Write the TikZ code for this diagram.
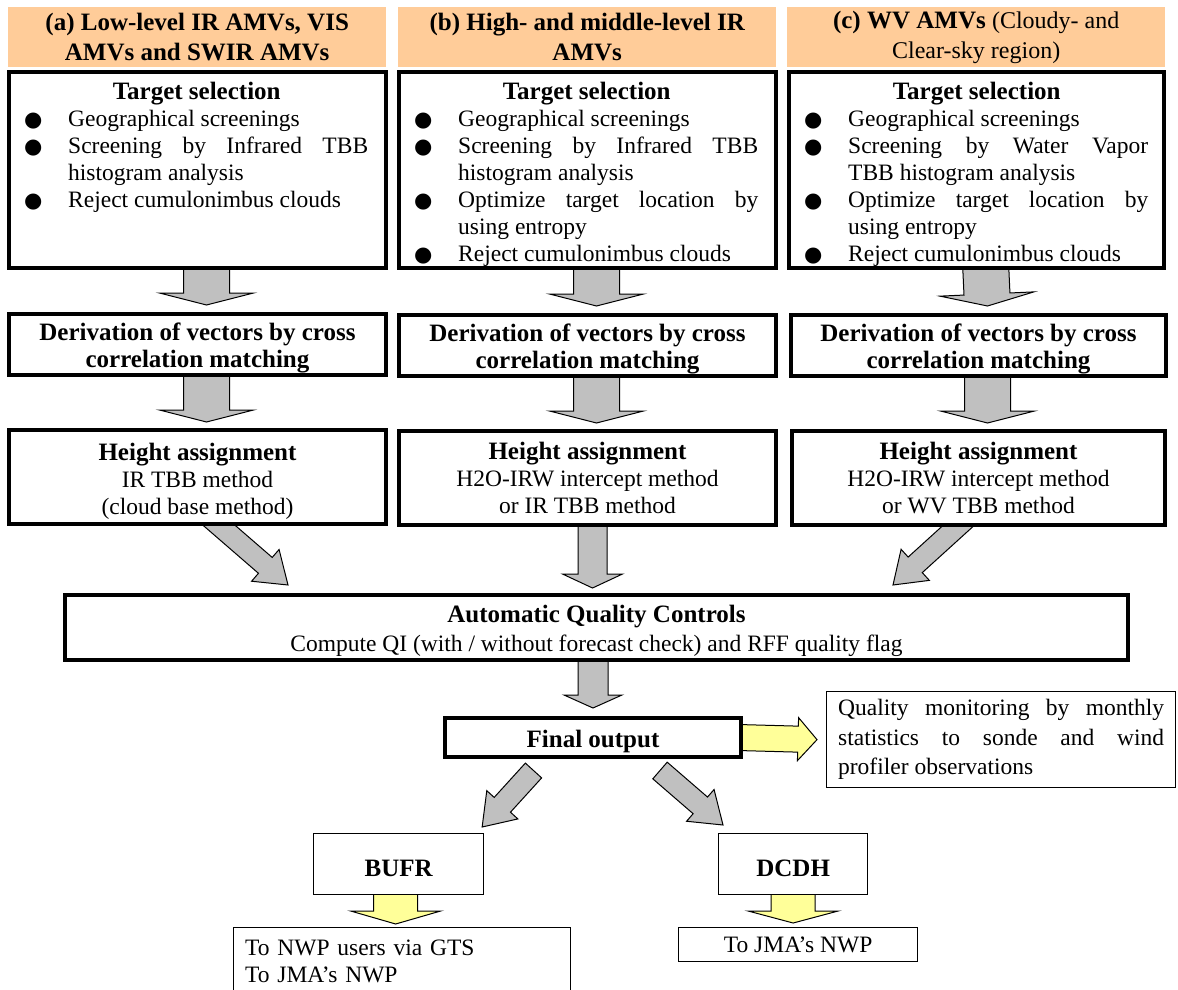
\documentclass[tikz,border=0pt]{standalone}
\usepackage{fontspec}
\setmainfont{Liberation Serif}
\newfontfamily\bulletfont{DejaVu Sans}
\usetikzlibrary{calc, positioning, backgrounds}

\definecolor{headorange}{HTML}{FFCC99}
\definecolor{arrowgray}{HTML}{C0C0C0}
\definecolor{arrowyellow}{HTML}{FFFF99}

\newcommand\bodyfont{\fontsize{23.5}{27}\selectfont}
\newcommand\hd[1]{{\fontsize{25}{27}\selectfont\bfseries #1}}
\newcommand\lift{\rule{0pt}{25pt}}

\tikzset{
  header/.style={fill=headorange, anchor=north west, minimum width=378pt, minimum height=60pt,
    inner sep=0pt, align=center, font=\fontsize{25}{30}\selectfont\bfseries},
  thickbox/.style={draw, line width=4pt, fill=white, anchor=north west, inner sep=0pt,
    align=center, font=\bodyfont},
  thinbox/.style={draw, line width=1.3pt, fill=white, anchor=north west, inner sep=0pt,
    align=center, font=\bodyfont},
  dvbox/.style={thickbox, minimum width=377pt, minimum height=61pt,
    font=\fontsize{25}{27}\selectfont\bfseries},
  htbox/.style={thickbox, minimum width=377pt, minimum height=94pt},
  listtext/.style={anchor=north west, inner sep=0pt, text width=343pt, align=justify,
    font=\bodyfont},
  grayarrow/.style={draw, line width=1pt, fill=arrowgray},
  yellowarrow/.style={draw, line width=1pt, fill=arrowyellow}
}

% bullet item with hanging indent
\newcommand\tsitem[1]{\par\hangindent=43pt\hangafter=1\noindent
  \makebox[43pt][l]{\hspace*{-1pt}{\bulletfont\fontsize{21}{27}\selectfont ●}}#1}

% block arrow: [style]{from}{to}{shaft half}{head half}{head length}
\newcommand\blockarrow[6][grayarrow]{%
  \coordinate (ba-s) at (#2);
  \coordinate (ba-e) at (#3);
  \coordinate (ba-h) at ($(ba-e)!#6!(ba-s)$);
  \filldraw[#1] ($(ba-s)!#4!90:(ba-e)$) -- ($(ba-h)!#4!-90:(ba-s)$)
    -- ($(ba-h)!#5!-90:(ba-s)$) -- (ba-e) -- ($(ba-h)!#5!90:(ba-s)$)
    -- ($(ba-h)!#4!90:(ba-s)$) -- ($(ba-s)!#4!-90:(ba-e)$) -- cycle;
}

\begin{document}
\begin{tikzpicture}[x=1pt, y=1pt]
\useasboundingbox (0,0) rectangle (1178,-990);

% column headers
\node[header] (hd-a) at (8,-7) {(a) Low-level IR AMVs, VIS\\AMVs and SWIR AMVs};
\node[header] (hd-b) at (398,-7) {(b) High- and middle-level IR\\AMVs};
\node[header] (hd-c) at (787,-7) {(c) WV AMVs {\mdseries\fontsize{24}{30}\selectfont(Cloudy- and}\\{\mdseries\fontsize{24}{30}\selectfont Clear-sky region)}};

% target selection
\node[thickbox, minimum width=377pt, minimum height=196pt] (ts-a) at (7,-70) {};
\node[thickbox, minimum width=377pt, minimum height=196pt] (ts-b) at (397,-70) {};
\node[thickbox, minimum width=375pt, minimum height=196pt] (ts-c) at (787,-70) {};

\node[listtext] (ts-a-txt) at ($(ts-a.north west)+(18,-12)$) {{\centering\hd{Target selection}\par}
  \tsitem{Geographical screenings}
  \tsitem{Screening by Infrared TBB\linebreak histogram analysis}
  \tsitem{Reject cumulonimbus clouds}};
\node[listtext] (ts-b-txt) at ($(ts-b.north west)+(18,-12)$) {{\centering\hd{Target selection}\par}
  \tsitem{Geographical screenings}
  \tsitem{Screening by Infrared TBB\linebreak histogram analysis}
  \tsitem{Optimize target location by\linebreak using entropy}
  \tsitem{Reject cumulonimbus clouds}};
\node[listtext] (ts-c-txt) at ($(ts-c.north west)+(18,-12)$) {{\centering\hd{Target selection}\par}
  \tsitem{Geographical screenings}
  \tsitem{Screening by Water Vapor\linebreak TBB histogram analysis}
  \tsitem{Optimize target location by\linebreak using entropy}
  \tsitem{Reject cumulonimbus clouds}};

% vector derivation
\node[dvbox] (dv-a) at (7,-312) {\lift Derivation of vectors by cross\\correlation matching};
\node[dvbox] (dv-b) at (397,-313) {\lift Derivation of vectors by cross\\correlation matching};
\node[dvbox, minimum width=375pt] (dv-c) at (789,-313) {\lift Derivation of vectors by cross\\correlation matching};

% height assignment
\node[htbox] (ht-a) at (7,-428) {\lift\hd{Height assignment}\\IR TBB method\\(cloud base method)};
\node[htbox] (ht-b) at (397,-429) {\hd{Height assignment}\\H2O-IRW intercept method\\or IR TBB method};
\node[htbox, minimum width=373pt] (ht-c) at (790,-429) {\hd{Height assignment}\\H2O-IRW intercept method\\or WV TBB method};

% quality control and output
\node[thickbox, minimum width=1063pt, minimum height=65pt, font=\fontsize{23.5}{29}\selectfont] (aqc) at (63,-593)
  {\lift\hd{Automatic Quality Controls}\\Compute QI (with / without forecast check) and RFF quality flag};
\node[thickbox, minimum width=296pt, minimum height=39pt] (fo) at (443,-716) {\lift\hd{Final output}};
\node[thinbox, minimum width=349pt, minimum height=96pt, text width=326pt, align=justify,
  font=\fontsize{23.5}{29.5}\selectfont] (qm) at (826,-691)
  {Quality monitoring by monthly\linebreak statistics to sonde and wind\linebreak profiler observations};

\node[thinbox, minimum width=170pt, minimum height=61pt] (bufr) at (313,-833) {\lift\hd{BUFR}};
\node[thinbox, minimum width=149pt, minimum height=61pt] (dcdh) at (718,-833) {\lift\hd{DCDH}};
\node[thinbox, minimum width=337pt, minimum height=68pt, text width=314pt, align=left] (nwp) at (233,-927) {To NWP users via GTS\\To JMA’s NWP};
\node[thinbox, minimum width=239pt, minimum height=34pt] (jma) at (678,-927) {To JMA’s NWP};

% block arrows
\begin{scope}[on background layer]
  \foreach \col in {a,b,c} {
    \blockarrow{[xshift=9pt,yshift=8pt]ts-\col.south}{[xshift=9pt,yshift=7pt]dv-\col.north}{23pt}{47pt}{12pt}
    \blockarrow{[xshift=9pt,yshift=8pt]dv-\col.south}{[xshift=9pt,yshift=6pt]ht-\col.north}{23pt}{47pt}{12pt}
  }
  \blockarrow{[xshift=12pt,yshift=9pt]ht-a.south}{[xshift=225pt,yshift=8pt]aqc.north west}{10.5pt}{21pt}{30pt}
  \blockarrow{[xshift=5pt,yshift=10pt]ht-b.south}{[xshift=-4pt,yshift=5pt]aqc.north}{14.5pt}{30pt}{14pt}
  \blockarrow{[xshift=-9.5pt,yshift=11pt]ht-c.south}{[xshift=-237pt,yshift=8pt]aqc.north east}{10.5pt}{21pt}{30pt}
  \blockarrow{[xshift=-3.5pt,yshift=10pt]aqc.south}{[yshift=8pt]fo.north}{15pt}{29pt}{13pt}
  \blockarrow{[xshift=-59.5pt,yshift=-11.5pt]fo.south}{[xshift=83.5pt,yshift=6pt]bufr.north}{11pt}{21pt}{30pt}
  \blockarrow{[xshift=67pt,yshift=-11.5pt]fo.south}{[xshift=5pt,yshift=8pt]dcdh.north west}{11pt}{21pt}{30pt}
  \blockarrow[yellowarrow]{[xshift=-5pt]fo.east}{[xshift=-9pt]qm.west}{13pt}{21.5pt}{19pt}
  \blockarrow[yellowarrow]{[xshift=-3pt,yshift=5pt]bufr.south}{[xshift=-3pt,yshift=3pt]bufr.south |- nwp.north}{22pt}{45pt}{13pt}
  \blockarrow[yellowarrow]{[yshift=5pt]dcdh.south}{[yshift=4pt]dcdh.south |- jma.north}{22pt}{45pt}{12pt}
\end{scope}
\end{tikzpicture}
\end{document}
